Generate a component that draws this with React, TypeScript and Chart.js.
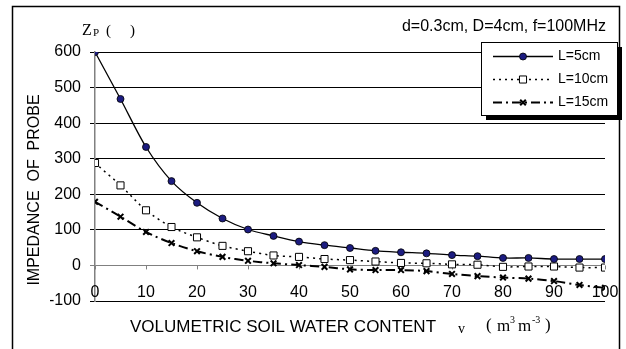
import React, { useEffect, useRef } from "react";
import { Chart, registerables } from "chart.js";

Chart.register(...registerables);

const xValues = [0, 5, 10, 15, 20, 25, 30, 35, 40, 45, 50, 55, 60, 65, 70, 75, 80, 85, 90, 95, 100];
const seriesL5 = [600, 468, 333, 237, 176, 132, 101, 83, 67, 57, 49, 41, 37, 34, 29, 26, 21, 21, 18, 18, 18];
const seriesL10 = [288, 225, 155, 108, 79, 55, 40, 28, 24, 18, 15, 11, 7, 6, 3, 2, -4, -3, -3, -6, -6];
const seriesL15 = [179, 137, 94, 63, 40, 24, 13, 6, 1, -4, -11, -13, -13, -16, -24, -30, -34, -37, -44, -55, -63];
const seriesLabels = ["L=5cm", "L=10cm", "L=15cm"];
const xTickLabels = [0, 10, 20, 30, 40, 50, 60, 70, 80, 90, 100];
const yTickValues = [-100, 0, 100, 200, 300, 400, 500, 600];

const SANS = "'Liberation Sans', Arial, sans-serif";
const SERIF = "'Liberation Serif', 'Times New Roman', serif";

export default function App() {
  const ref = useRef<HTMLCanvasElement | null>(null);

  useEffect(() => {
    const canvas = ref.current;
    if (!canvas) return;

    const toPts = (ys: number[]) => xValues.map((x, i) => ({ x, y: ys[i] }));

    function drawMarker(ctx: CanvasRenderingContext2D, style: string, x: number, y: number, r: number, fill: string, stroke: string, bw: number) {
      ctx.fillStyle = fill;
      ctx.strokeStyle = stroke;
      ctx.lineWidth = bw;
      ctx.setLineDash([]);
      ctx.beginPath();
      if (style === "circle") {
        ctx.arc(x, y, r, 0, Math.PI * 2);
        ctx.fill();
        ctx.stroke();
      } else if (style === "rect") {
        const s = r * Math.SQRT1_2;
        ctx.rect(x - s, y - s, 2 * s, 2 * s);
        ctx.fill();
        ctx.stroke();
      } else {
        const s = r * Math.SQRT1_2;
        ctx.moveTo(x - s, y - s);
        ctx.lineTo(x + s, y + s);
        ctx.moveTo(x + s, y - s);
        ctx.lineTo(x - s, y + s);
        ctx.stroke();
      }
    }

    const deco = {
      id: "deco",
      beforeDatasetsDraw(chart: any) {
        const ctx = chart.ctx;
        const xs = chart.scales.x;
        const ys = chart.scales.y;
        const y0 = ys.getPixelForValue(0);
        ctx.save();
        ctx.strokeStyle = "#808080";
        ctx.lineWidth = 1;
        for (const v of xTickLabels) {
          const px = Math.round(xs.getPixelForValue(v)) + 0.5;
          ctx.beginPath();
          ctx.moveTo(px, y0);
          ctx.lineTo(px, y0 + 4);
          ctx.stroke();
        }
        ctx.restore();
      },
      afterDraw(chart: any) {
        const ctx = chart.ctx;
        const xs = chart.scales.x;
        const ca = chart.chartArea;
        ctx.save();
        // frame
        ctx.strokeStyle = "#000";
        ctx.lineWidth = 1.5;
        ctx.beginPath();
        ctx.moveTo(12.5, 360);
        ctx.lineTo(12.5, 6.5);
        ctx.lineTo(619.5, 6.5);
        ctx.lineTo(619.5, 360);
        ctx.stroke();

        // x tick labels
        ctx.fillStyle = "#000";
        ctx.font = `16px ${SANS}`;
        ctx.textAlign = "center";
        ctx.textBaseline = "middle";
        for (const v of xTickLabels) {
          ctx.fillText(String(v), xs.getPixelForValue(v), ca.bottom - 8);
        }

        // title top right
        ctx.font = `16px ${SANS}`;
        ctx.textAlign = "right";
        ctx.fillText("d=0.3cm, D=4cm, f=100MHz", 606, 27);

        // Zp ( )
        ctx.textAlign = "left";
        ctx.font = `16px ${SERIF}`;
        ctx.fillText("Z", 82, 31);
        ctx.font = `11px ${SERIF}`;
        ctx.fillText("P", 93, 33);
        ctx.font = `15px ${SERIF}`;
        ctx.fillText("(", 106, 31);
        ctx.fillText(")", 130, 31);

        // y title
        ctx.save();
        ctx.translate(35, 190);
        ctx.rotate(-Math.PI / 2);
        ctx.font = `16px ${SANS}`;
        ctx.textAlign = "center";
        ctx.fillText("IMPEDANCE  OF  PROBE", 0, 0);
        ctx.restore();

        // x title
        ctx.font = `17px ${SANS}`;
        ctx.textAlign = "left";
        ctx.fillText("VOLUMETRIC SOIL WATER CONTENT", 130, 327);
        ctx.font = `14px ${SERIF}`;
        ctx.fillText("v", 458, 329);
        ctx.font = `17px ${SERIF}`;
        ctx.fillText("(", 486, 326);
        ctx.fillText("m", 497, 327);
        ctx.font = `10px ${SERIF}`;
        ctx.fillText("3", 510, 320);
        ctx.font = `17px ${SERIF}`;
        ctx.fillText("m", 518, 327);
        ctx.font = `10px ${SERIF}`;
        ctx.fillText("-3", 532, 320);
        ctx.font = `17px ${SERIF}`;
        ctx.fillText(")", 545, 326);

        // legend
        const lx = 481, ly = 42, lw = 136, lh = 73;
        ctx.fillStyle = "#000";
        ctx.fillRect(lx + 5, ly + 5, lw, lh);
        ctx.fillStyle = "#fff";
        ctx.fillRect(lx, ly, lw, lh);
        ctx.strokeStyle = "#000";
        ctx.lineWidth = 1;
        ctx.strokeRect(lx + 0.5, ly + 0.5, lw, lh);
        const rows = [56, 79, 102];
        chart.data.datasets.forEach((ds: any, i: number) => {
          const ry = rows[i] + 0.5;
          ctx.save();
          ctx.strokeStyle = ds.borderColor;
          ctx.lineWidth = ds.borderWidth;
          ctx.setLineDash(ds.borderDash || []);
          ctx.beginPath();
          ctx.moveTo(493, ry);
          ctx.lineTo(553, ry);
          ctx.stroke();
          ctx.restore();
          ctx.save();
          drawMarker(ctx, ds.pointStyle, 523, ry, ds.pointRadius, ds.pointBackgroundColor, ds.pointBorderColor, ds.pointBorderWidth);
          ctx.restore();
          ctx.fillStyle = "#000";
          ctx.font = `14px ${SANS}`;
          ctx.textAlign = "left";
          ctx.textBaseline = "middle";
          ctx.fillText(ds.label, 558, ry);
        });
        ctx.restore();
      },
    };

    const chart = new Chart(canvas, {
      type: "line",
      data: {
        datasets: [
          {
            label: seriesLabels[0],
            data: toPts(seriesL5),
            borderColor: "#000",
            borderWidth: 1.3,
            pointStyle: "circle",
            pointRadius: 3.5,
            pointBackgroundColor: "#1c1c80",
            pointBorderColor: "#000",
            pointBorderWidth: 0.8,
            tension: 0.3,
          },
          {
            label: seriesLabels[1],
            data: toPts(seriesL10),
            borderColor: "#000",
            borderWidth: 1.5,
            borderDash: [2, 4],
            pointStyle: "rect",
            pointRadius: 5,
            pointBackgroundColor: "#fff",
            pointBorderColor: "#000",
            pointBorderWidth: 1,
            tension: 0.3,
          },
          {
            label: seriesLabels[2],
            data: toPts(seriesL15),
            borderColor: "#000",
            borderWidth: 2,
            borderDash: [9, 4, 2, 4],
            pointStyle: "crossRot",
            pointRadius: 4,
            pointBackgroundColor: "#000",
            pointBorderColor: "#000",
            pointBorderWidth: 2,
            tension: 0.3,
          },
        ] as any,
      },
      options: {
        animation: false,
        responsive: false,
        maintainAspectRatio: false,
        layout: { padding: { left: 50, right: 21, top: 52, bottom: 48 } },
        plugins: { legend: { display: false }, tooltip: { enabled: false }, title: { display: false } },
        scales: {
          x: {
            type: "linear",
            min: 0,
            max: 100,
            display: false,
          },
          y: {
            min: -100,
            max: 600,
            afterBuildTicks: (s: any) => {
              s.ticks = yTickValues.map((v) => ({ value: v }));
            },
            afterFit: (s: any) => {
              s.width = 45;
            },
            ticks: {
              font: { family: SANS, size: 16 },
              color: "#000",
              padding: 9,
            },
            grid: {
              color: (c: any) => (c.tick && c.tick.value === 0 ? "#808080" : "#000"),
              lineWidth: 1,
              tickLength: 5,
              drawTicks: true,
            },
            border: { color: "#808080", width: 1.5 },
          },
        },
      } as any,
      plugins: [deco],
    });

    return () => chart.destroy();
  }, []);

  return (
    <div style={{ position: "absolute", left: 0, top: 0, width: 626, height: 349, background: "#fff" }}>
      <canvas ref={ref} width={626} height={349} style={{ width: 626, height: 349, display: "block" }} />
    </div>
  );
}
